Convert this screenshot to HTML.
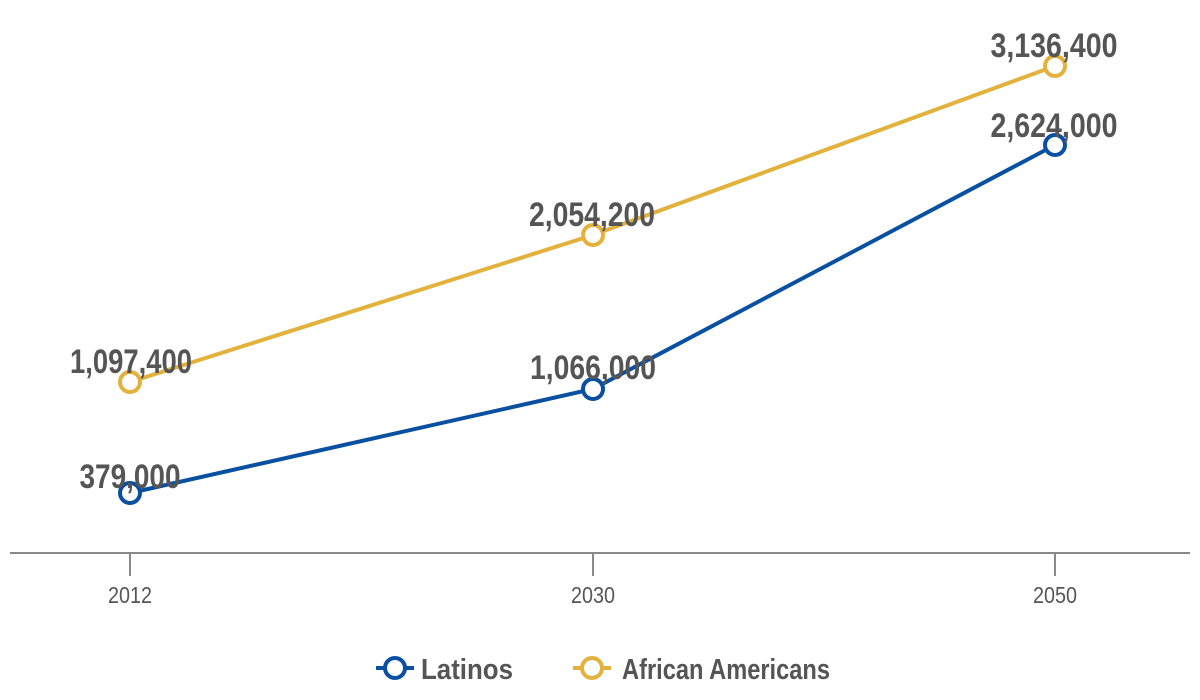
<!DOCTYPE html>
<html><head><meta charset="utf-8"><style>
html,body{margin:0;padding:0;background:#fff;width:1200px;height:700px;overflow:hidden}
text{font-family:"Liberation Sans Narrow","Liberation Sans",sans-serif}
</style></head><body>
<svg width="1200" height="700" viewBox="0 0 1200 700" xmlns="http://www.w3.org/2000/svg">
<line x1="10" y1="553" x2="1190" y2="553" stroke="#8a8a8a" stroke-width="2"/>
<g stroke="#8a8a8a" stroke-width="2">
<line x1="130" y1="553" x2="130" y2="576"/>
<line x1="593" y1="553" x2="593" y2="576"/>
<line x1="1055" y1="553" x2="1055" y2="576"/>
</g>
<g fill="#555" font-size="23" text-anchor="middle">
<text x="130" y="603" textLength="44" lengthAdjust="spacingAndGlyphs">2012</text>
<text x="593" y="603" textLength="44" lengthAdjust="spacingAndGlyphs">2030</text>
<text x="1055" y="603" textLength="44" lengthAdjust="spacingAndGlyphs">2050</text>
</g>
<polyline points="130,382 593,235 1055,66" fill="none" stroke="#e3b23c" stroke-width="4"/>
<polyline points="130,493 593,389 1055,145" fill="none" stroke="#0a50a1" stroke-width="4"/>
<g fill="#fff" stroke-width="4">
<circle cx="130" cy="382" r="10" stroke="#e3b23c"/>
<circle cx="593" cy="235" r="10" stroke="#e3b23c"/>
<circle cx="1055" cy="66" r="10" stroke="#e3b23c"/>
<circle cx="130" cy="493" r="10" stroke="#0a50a1"/>
<circle cx="593" cy="389" r="10" stroke="#0a50a1"/>
<circle cx="1055" cy="145" r="10" stroke="#0a50a1"/>
</g>
<g fill="#555" font-size="34" font-weight="bold" text-anchor="middle">
<text x="131" y="373" textLength="122" lengthAdjust="spacingAndGlyphs">1,097,400</text>
<text x="130" y="488" textLength="101" lengthAdjust="spacingAndGlyphs">379,000</text>
<text x="592" y="226" textLength="126" lengthAdjust="spacingAndGlyphs">2,054,200</text>
<text x="593" y="379" textLength="126" lengthAdjust="spacingAndGlyphs">1,066,000</text>
<text x="1054" y="57" textLength="127" lengthAdjust="spacingAndGlyphs">3,136,400</text>
<text x="1054" y="137" textLength="127" lengthAdjust="spacingAndGlyphs">2,624,000</text>
</g>
<line x1="376" y1="668" x2="414" y2="668" stroke="#0a50a1" stroke-width="4"/>
<circle cx="395" cy="668" r="10" fill="#fff" stroke="#0a50a1" stroke-width="4"/>
<line x1="573" y1="668" x2="611" y2="668" stroke="#e3b23c" stroke-width="4"/>
<circle cx="592" cy="668" r="10" fill="#fff" stroke="#e3b23c" stroke-width="4"/>
<g fill="#555" font-size="29" font-weight="bold">
<text x="421" y="679" textLength="92" lengthAdjust="spacingAndGlyphs">Latinos</text>
<text x="622" y="679" textLength="208" lengthAdjust="spacingAndGlyphs">African Americans</text>
</g>
</svg>
</body></html>
